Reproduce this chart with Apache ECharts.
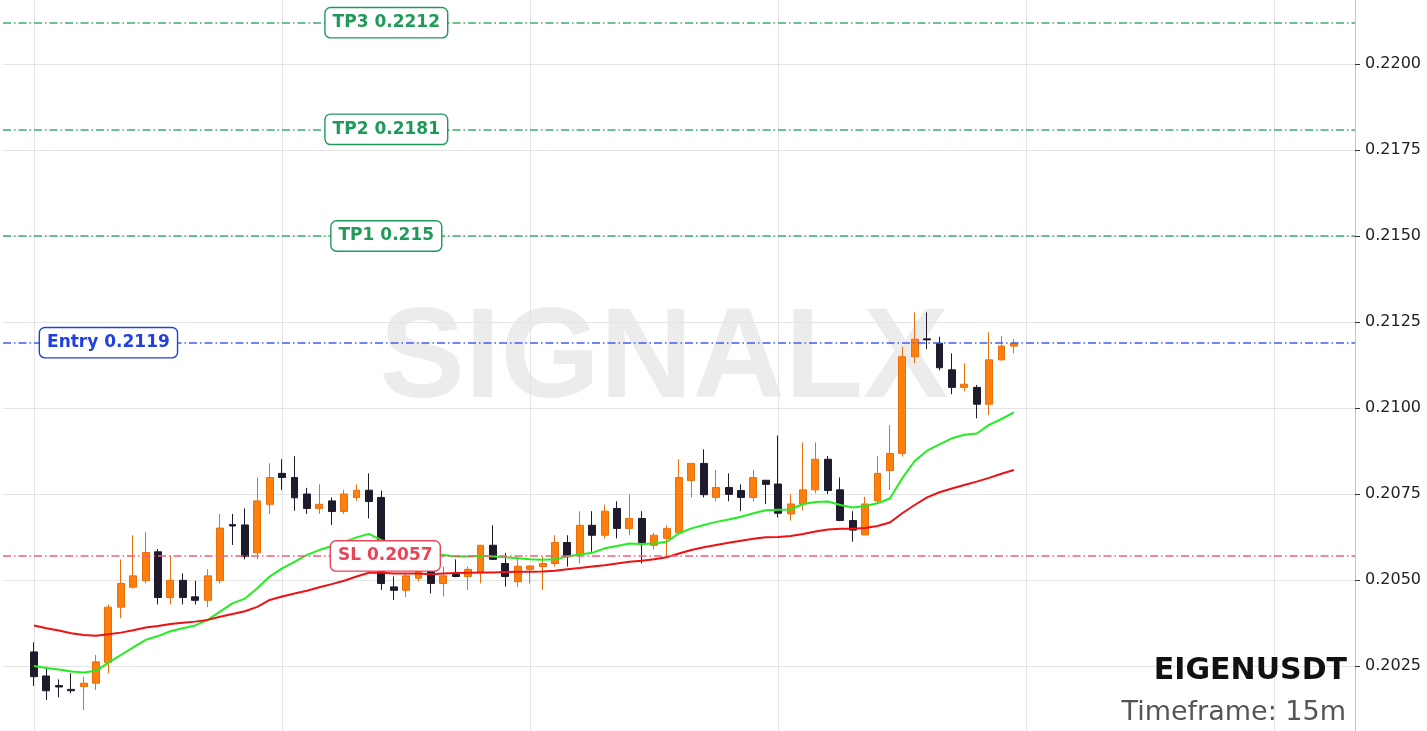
<!DOCTYPE html>
<html>
<head>
<meta charset="utf-8">
<script src="https://cdn.jsdelivr.net/npm/echarts@6/dist/echarts.min.js"></script>
<style>
html,body{margin:0;padding:0;background:#fff;}
#chart{width:1427px;height:731px;}
</style>
</head>
<body>
<div id="chart"></div>
<script>
// ---- data ----
const symbol = 'EIGENUSDT';
const timeframe = '15m';
// [open, close, low, high]
const candles = [
[0.20291,0.20219,0.20192,0.20319],[0.20221,0.20178,0.20151,0.20248],[0.20193,0.20189,0.20159,0.20211],[0.20182,0.20178,0.20171,0.20229],
[0.20190,0.20200,0.20122,0.20219],[0.20200,0.20262,0.20180,0.20282],[0.20260,0.20421,0.20229,0.20429],[0.20421,0.20490,0.20389,0.20560],
[0.20479,0.20512,0.20475,0.20630],[0.20498,0.20580,0.20490,0.20639],[0.20582,0.20449,0.20429,0.20590],[0.20449,0.20499,0.20429,0.20571],
[0.20499,0.20449,0.20429,0.20519],[0.20451,0.20441,0.20429,0.20498],[0.20441,0.20512,0.20421,0.20531],[0.20498,0.20651,0.20490,0.20692],
[0.20661,0.20657,0.20602,0.20692],[0.20660,0.20568,0.20560,0.20708],[0.20579,0.20730,0.20560,0.20798],[0.20720,0.20798,0.20692,0.20839],
[0.20810,0.20798,0.20762,0.20851],[0.20798,0.20739,0.20701,0.20860],[0.20750,0.20708,0.20692,0.20768],[0.20708,0.20720,0.20692,0.20778],
[0.20730,0.20699,0.20660,0.20740],[0.20699,0.20750,0.20692,0.20762],[0.20740,0.20761,0.20730,0.20778],[0.20761,0.20728,0.20679,0.20810],
[0.20740,0.20490,0.20471,0.20760],[0.20480,0.20470,0.20442,0.20510],[0.20470,0.20512,0.20450,0.20519],[0.20505,0.20525,0.20495,0.20540],
[0.20529,0.20490,0.20461,0.20544],[0.20490,0.20512,0.20452,0.20539],[0.20516,0.20510,0.20508,0.20560],[0.20510,0.20531,0.20471,0.20539],
[0.20521,0.20601,0.20490,0.20601],[0.20601,0.20560,0.20558,0.20659],[0.20548,0.20510,0.20481,0.20579],[0.20495,0.20540,0.20480,0.20565],
[0.20531,0.20541,0.20490,0.20543],[0.20539,0.20548,0.20471,0.20568],[0.20548,0.20609,0.20539,0.20630],[0.20609,0.20568,0.20539,0.20630],
[0.20574,0.20659,0.20548,0.20700],[0.20659,0.20630,0.20582,0.20700],[0.20630,0.20700,0.20621,0.20719],[0.20708,0.20650,0.20621,0.20729],
[0.20650,0.20679,0.20630,0.20749],[0.20679,0.20609,0.20548,0.20700],[0.20601,0.20630,0.20589,0.20637],[0.20621,0.20650,0.20568,0.20659],
[0.20637,0.20798,0.20635,0.20851],[0.20789,0.20839,0.20740,0.20840],[0.20839,0.20748,0.20740,0.20880],[0.20740,0.20769,0.20729,0.20820],
[0.20769,0.20749,0.20729,0.20810],[0.20760,0.20740,0.20700,0.20778],[0.20740,0.20798,0.20729,0.20820],[0.20790,0.20778,0.20721,0.20790],
[0.20779,0.20694,0.20682,0.20920],[0.20692,0.20721,0.20673,0.20749],[0.20721,0.20762,0.20702,0.20900],[0.20762,0.20851,0.20752,0.20900],
[0.20851,0.20760,0.20750,0.20860],[0.20762,0.20673,0.20671,0.20798],[0.20673,0.20645,0.20611,0.20700],[0.20631,0.20721,0.20631,0.20742],
[0.20730,0.20810,0.20721,0.20860],[0.20818,0.20868,0.20762,0.20950],[0.20868,0.21149,0.20859,0.21178],[0.21149,0.21200,0.21130,0.21278],
[0.21201,0.21198,0.21171,0.21278],[0.21188,0.21117,0.21109,0.21207],[0.21111,0.21060,0.21040,0.21159],[0.21060,0.21069,0.21049,0.21130],
[0.21060,0.21011,0.20970,0.21067],[0.21011,0.21140,0.20980,0.21220],[0.21140,0.21180,0.21138,0.21209],[0.21180,0.21188,0.21159,0.21200]
];
const emaFast = [
0.20250,0.20244,0.20240,0.20234,0.20231,0.20236,0.20260,0.20282,0.20304,0.20326,
0.20337,0.20351,0.20360,0.20368,0.20384,0.20408,0.20432,0.20446,0.20476,0.20510,
0.20534,0.20553,0.20573,0.20587,0.20599,0.20611,0.20624,0.20634,0.20616,0.20605,
0.20595,0.20585,0.20578,0.20573,0.20568,0.20568,0.20570,0.20568,0.20566,0.20563,
0.20560,0.20559,0.20560,0.20568,0.20574,0.20579,0.20592,0.20599,0.20606,0.20605,
0.20606,0.20611,0.20636,0.20650,0.20660,0.20669,0.20676,0.20684,0.20694,0.20703,
0.20704,0.20705,0.20721,0.20727,0.20728,0.20718,0.20711,0.20715,0.20723,0.20737,
0.20796,0.20846,0.20876,0.20894,0.20912,0.20922,0.20926,0.20951,0.20968,0.20987
];
const emaSlow = [
0.20368,0.20360,0.20353,0.20345,0.20340,0.20338,0.20342,0.20347,0.20354,0.20362,
0.20366,0.20372,0.20376,0.20379,0.20384,0.20393,0.20401,0.20409,0.20422,0.20442,
0.20452,0.20461,0.20469,0.20479,0.20488,0.20498,0.20510,0.20521,0.20521,0.20519,
0.20519,0.20519,0.20517,0.20519,0.20520,0.20521,0.20522,0.20522,0.20523,0.20524,
0.20524,0.20525,0.20527,0.20531,0.20535,0.20539,0.20543,0.20548,0.20553,0.20556,
0.20560,0.20566,0.20577,0.20587,0.20595,0.20602,0.20608,0.20614,0.20620,0.20624,
0.20625,0.20628,0.20634,0.20641,0.20647,0.20649,0.20649,0.20651,0.20657,0.20667,
0.20694,0.20718,0.20740,0.20755,0.20766,0.20776,0.20786,0.20797,0.20809,0.20820
];
const levelNames = ['TP3','TP2','TP1','Entry','SL'];
const levelValues = [0.2212,0.2181,0.2150,0.2119,0.2057];
const yTicks = {min:0.2000, max:0.2225, interval:0.0025};
const vGridCandles = ['0','20','40','60','80','100'];

// ---- layout / style ----
const PAD_L = 2, PAD_R = 27;
const categories = [];
for (let i = -PAD_L; i < candles.length + PAD_R; i++) categories.push(String(i));
const padData = (arr) => Array(PAD_L).fill('-').concat(arr);

const levelColors = {
  TP3:{line:'#3aae6e', text:'#1f9a58'}, TP2:{line:'#3aae6e', text:'#1f9a58'}, TP1:{line:'#3aae6e', text:'#1f9a58'},
  Entry:{line:'#3f5ef0', text:'#2040e0'}, SL:{line:'#f0607a', text:'#e8455a'}
};
const labelAnchor = {TP3:'28', TP2:'28', TP1:'28', Entry:'6', SL:'28'};
const labelOffset = {TP3:[5,0], TP2:[5,0], TP1:[5,0], Entry:[0,0], SL:[4,0]};
const FONT = 'DejaVu Sans';

const chart = echarts.init(document.getElementById('chart'), null, {renderer:'canvas'});
const option = {
  backgroundColor:'#ffffff',
  animation:false,
  grid:{left:3, right:72, top:-22, bottom:-21, containLabel:false, outerBoundsMode:'none'},
  xAxis:{
    type:'category', data:categories, boundaryGap:true,
    axisLine:{show:false}, axisTick:{show:false}, axisLabel:{show:false}, splitLine:{show:false}
  },
  yAxis:{
    type:'value', position:'right', min:yTicks.min, max:yTicks.max, interval:yTicks.interval, scale:true,
    axisLine:{show:true, lineStyle:{color:'#c4c4c4', width:1}},
    axisTick:{show:true, length:5, inside:false, lineStyle:{color:'#333', width:1}},
    axisLabel:{show:true, margin:10, color:'#222', fontSize:16, fontFamily:FONT,
      showMinLabel:false, showMaxLabel:false, formatter:(v)=>v.toFixed(4)},
    splitLine:{show:true, lineStyle:{color:'#e4e4e4', width:1}}
  },
  graphic:[
    {type:'text', z:0, silent:true, x:664, y:362,
      style:{text:'SIGNALX', fill:'rgba(185,185,185,0.28)', font:'bold 128px "Liberation Sans"', align:'center', verticalAlign:'middle'}},
    {type:'text', z:10, silent:true, x:1347, y:671,
      style:{text:symbol, fill:'#111', font:'bold 30px "DejaVu Sans"', align:'right', verticalAlign:'middle'}},
    {type:'text', z:10, silent:true, x:1346, y:713,
      style:{text:'Timeframe: ' + timeframe, fill:'#555', font:'27px "DejaVu Sans"', align:'right', verticalAlign:'middle'}}
  ],
  series:[
    {
      type:'candlestick', name:'price', z:2,
      data:padData(candles), barWidth:7.4,
      itemStyle:{color:'#ff7f0e', color0:'#1f1a2c', borderColor:'#e8700c', borderColor0:'#1f1a2c', borderWidth:1},
      emphasis:{disabled:true}
    },
    {
      type:'line', name:'EMA fast', z:3, data:padData(emaFast), showSymbol:false, symbol:'none',
      lineStyle:{color:'#22ee22', width:2}, silent:true,
      markLine:{
        z:1, silent:true, symbol:['none','none'], label:{show:false},
        lineStyle:{color:'#e4e4e4', width:1, type:'solid'},
        data:vGridCandles.map(c=>({xAxis:c}))
      }
    },
    {
      type:'line', name:'EMA slow', z:3, data:padData(emaSlow), showSymbol:false, symbol:'none',
      lineStyle:{color:'#ee1111', width:2}, silent:true,
      markLine:{
        z:5, silent:true, precision:4, symbol:['none','none'], label:{show:false},
        data:levelNames.map((n,i)=>({yAxis:levelValues[i],
          lineStyle:{color:levelColors[n].line, width:1.5, type:[8,3,1.5,3]}}))
      },
      markPoint:{
        z:6, silent:true, symbol:'rect', symbolSize:1, itemStyle:{color:'rgba(0,0,0,0)'},
        data:levelNames.map((n,i)=>({
          coord:[labelAnchor[n], levelValues[i]],
          label:{show:true, position:'inside', offset:labelOffset[n],
            formatter:n + ' ' + String(levelValues[i]),
            color:levelColors[n].text, fontFamily:FONT, fontWeight:'bold', fontSize:17, lineHeight:19,
            backgroundColor:'#ffffff', borderColor:levelColors[n].text, borderWidth:1.4, borderRadius:5,
            padding:[5,7,5,7]}
        }))
      }
    }
  ]
};
chart.setOption(option);
</script>
</body>
</html>
